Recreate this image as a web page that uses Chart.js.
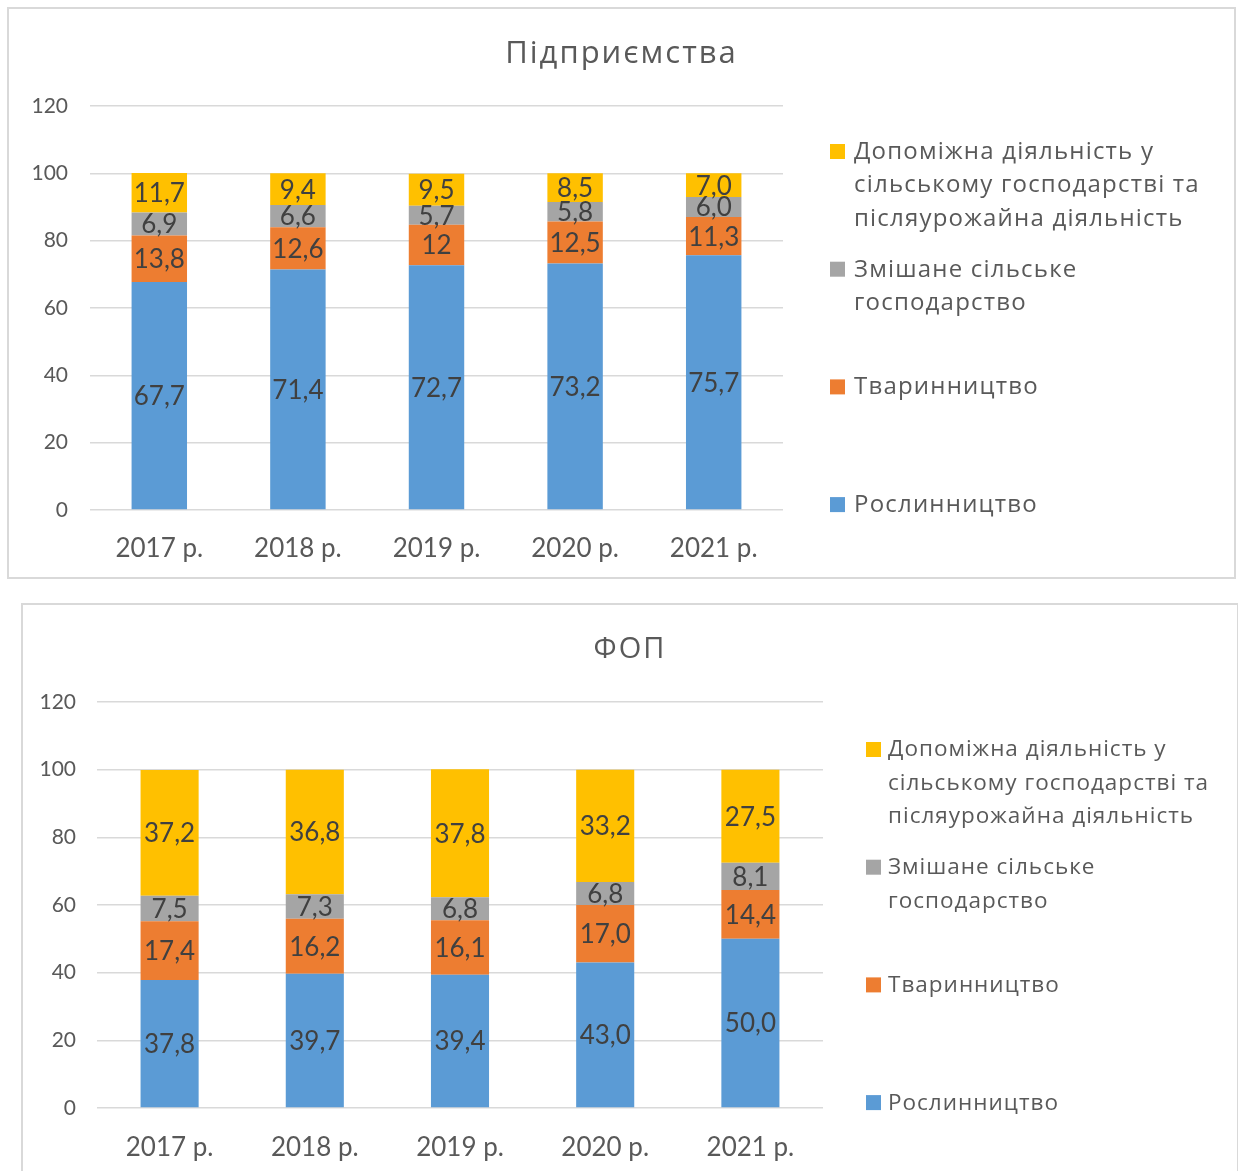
<!DOCTYPE html>
<html>
<head>
<meta charset="utf-8">
<script src="https://cdn.jsdelivr.net/npm/chart.js@4/dist/chart.umd.min.js"></script>
<style>
  body { margin:0; background:#fff; width:1238px; height:1171px; overflow:hidden; position:relative; }
  .box { position:absolute; border:2px solid #d9d9d9; box-sizing:border-box; background:#fff; }
  #box1 { left:7px; top:7px; width:1229px; height:572px; }
  #box2 { left:21px; top:603px; width:1218px; height:572px; }
  canvas { display:block; }
</style>
</head>
<body>
<div class="box" id="box1"><canvas id="chart1" width="1225" height="568"></canvas></div>
<div class="box" id="box2"><canvas id="chart2" width="1214" height="568"></canvas></div>
<script>
// Data
const years = ['2017 р.', '2018 р.', '2019 р.', '2020 р.', '2021 р.'];
const seriesNames = ['Рослинництво', 'Тваринництво', 'Змішане сільське господарство',
  'Допоміжна діяльність у сільському господарстві та післяурожайна діяльність'];
const legendLines = [
  ['Рослинництво'],
  ['Тваринництво'],
  ['Змішане сільське', 'господарство'],
  ['Допоміжна діяльність у', 'сільському господарстві та', 'післяурожайна діяльність']
];
const seriesColors = ['#5b9bd5', '#ed7d31', '#a5a5a5', '#ffc000'];
const yTicks = [0, 20, 40, 60, 80, 100, 120];

// Підприємства
const entPlants  = ['67,7', '71,4', '72,7', '73,2', '75,7'];
const entAnimals = ['13,8', '12,6', '12',   '12,5', '11,3'];
const entMixed   = ['6,9',  '6,6',  '5,7',  '5,8',  '6,0'];
const entAux     = ['11,7', '9,4',  '9,5',  '8,5',  '7,0'];

// ФОП
const fopPlants  = ['37,8', '39,7', '39,4', '43,0', '50,0'];
const fopAnimals = ['17,4', '16,2', '16,1', '17,0', '14,4'];
const fopMixed   = ['7,5',  '7,3',  '6,8',  '6,8',  '8,1'];
const fopAux     = ['37,2', '36,8', '37,8', '33,2', '27,5'];

const toNum = s => parseFloat(s.replace(',', '.'));
const textColor = '#595959';

// data labels inside the segments
const segLabels = {
  id: 'segLabels',
  afterDatasetsDraw(chart) {
    const ctx = chart.ctx;
    ctx.save();
    ctx.font = '26px Lato';
    ctx.fillStyle = '#404040';
    ctx.textAlign = 'center';
    ctx.textBaseline = 'middle';
    chart.data.datasets.forEach((ds, i) => {
      chart.getDatasetMeta(i).data.forEach((bar, j) => {
        ctx.fillText(ds.raw[j], bar.x, (bar.y + bar.base) / 2 + 1);
      });
    });
    ctx.restore();
  }
};

// title + legend on the right
const sideLegend = {
  id: 'sideLegend',
  afterDraw(chart, args, opts) {
    const ctx = chart.ctx;
    ctx.save();
    ctx.fillStyle = textColor;
    ctx.textAlign = 'center';
    ctx.textBaseline = 'middle';
    ctx.font = opts.titleSize + 'px "Open Sans"';
    ctx.letterSpacing = '2px';
    ctx.fillText(opts.title, chart.width / 2, opts.titleY);
    ctx.font = opts.fontSize + 'px "Open Sans"';
    ctx.letterSpacing = opts.spacing + 'px';
    ctx.textAlign = 'left';
    for (let k = 0; k < chart.data.datasets.length; k++) {
      const i = chart.data.datasets.length - 1 - k;
      const ds = chart.data.datasets[i];
      const y0 = opts.top + k * opts.step;
      ctx.fillStyle = ds.backgroundColor;
      ctx.fillRect(opts.boxX, y0 - 8, 15, 15);
      ctx.fillStyle = textColor;
      legendLines[i].forEach((line, n) => ctx.fillText(line, opts.textX, y0 + n * 33.5));
    }
    ctx.restore();
  }
};

function makeChart(id, title, series, geo) {
  new Chart(document.getElementById(id), {
    type: 'bar',
    data: {
      labels: years,
      datasets: series.map((vals, i) => ({
        label: seriesNames[i],
        raw: vals,
        data: vals.map(toNum),
        backgroundColor: seriesColors[i],
        barPercentage: 0.4,
        categoryPercentage: 1
      }))
    },
    options: {
      responsive: false,
      animation: false,
      layout: { padding: { top: geo.top, right: geo.right, left: 0, bottom: 0 } },
      plugins: {
        legend: { display: false },
        tooltip: { enabled: false },
        sideLegend: geo.legend
      },
      scales: {
        x: {
          stacked: true,
          grid: { display: false },
          border: { display: false },
          ticks: { color: textColor, font: { family: 'Lato', size: 26 }, padding: geo.xPad },
          afterFit: s => { s.height = geo.xHeight; }
        },
        y: {
          stacked: true,
          min: 0, max: 120,
          afterBuildTicks: s => { s.ticks = yTicks.map(v => ({ value: v })); },
          grid: { color: '#d9d9d9', lineWidth: 1.5, drawTicks: false },
          border: { display: false },
          ticks: { color: textColor, font: { family: 'Lato', size: 21 }, padding: geo.yPad },
          afterFit: s => { s.width = geo.yWidth; }
        }
      }
    },
    plugins: [segLabels, sideLegend]
  });
}

makeChart('chart1', 'Підприємства', [entPlants, entAnimals, entMixed, entAux], {
  top: 97, right: 451, yWidth: 81, yPad: 22, xHeight: 67, xPad: 15,
  legend: { title: 'Підприємства', titleSize: 31, titleY: 45, fontSize: 24, spacing: 1.2,
            boxX: 821, textX: 845, top: 143, step: 117.7 }
});

makeChart('chart2', 'ФОП', [fopPlants, fopAnimals, fopMixed, fopAux], {
  top: 97, right: 414, yWidth: 74, yPad: 21, xHeight: 65, xPad: 16,
  legend: { title: 'ФОП', titleSize: 29, titleY: 45, fontSize: 22.5, spacing: 1,
            boxX: 843, textX: 865, top: 145, step: 117.7 }
});
</script>
</body>
</html>
